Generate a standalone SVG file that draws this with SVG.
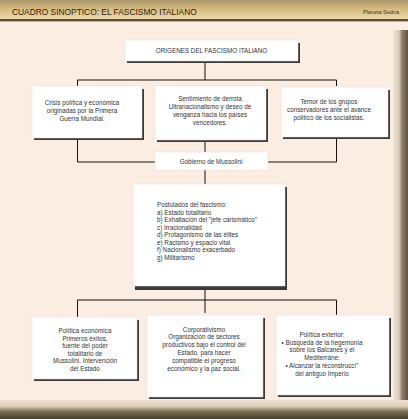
<svg xmlns="http://www.w3.org/2000/svg" width="408" height="419" viewBox="0 0 408 419">
<defs>
<linearGradient id="hdr" x1="0" y1="0" x2="0" y2="1">
<stop offset="0" stop-color="#a8956a"/>
<stop offset="0.45" stop-color="#d6bb7e"/>
<stop offset="1" stop-color="#ecdcae"/>
</linearGradient>
<linearGradient id="rb" x1="0" y1="0" x2="1" y2="0">
<stop offset="0" stop-color="#efe4d6"/>
<stop offset="0.4" stop-color="#d9ccbb"/>
<stop offset="0.6" stop-color="#8f806a"/>
<stop offset="1" stop-color="#5f523f"/>
</linearGradient>
<linearGradient id="bb" x1="0" y1="0" x2="0" y2="1">
<stop offset="0" stop-color="#efe3d4"/>
<stop offset="0.35" stop-color="#d8cab5"/>
<stop offset="0.6" stop-color="#7f7055"/>
<stop offset="1" stop-color="#463c2b"/>
</linearGradient>
<style>
.box{fill:#ffffff;stroke:#e6e0da;stroke-width:0.5}
.sh{fill:#3a3a3a}
.t{font-family:"Liberation Sans",Arial,sans-serif;font-size:6.3px;fill:#333333;text-anchor:middle}
.tl{font-family:"Liberation Sans",Arial,sans-serif;font-size:6.3px;fill:#333333}
.c{stroke:#111111;stroke-width:1;fill:none}
</style>
</defs>
<rect x="0" y="0" width="408" height="419" fill="#fcede2"/>
<rect x="0" y="0" width="408" height="20" fill="url(#hdr)"/>
<rect x="0" y="19" width="408" height="2" fill="#5e4d33"/>
<rect x="0" y="21" width="408" height="1" fill="#c9b48a"/>
<rect x="393" y="30" width="15" height="389" fill="url(#rb)"/>
<rect x="0" y="400" width="408" height="19" fill="url(#bb)"/>
<text x="12" y="15" font-family="Liberation Sans, Arial, sans-serif" font-size="8.4px" fill="#2e2614">CUADRO SINOPTICO: EL FASCISMO ITALIANO</text>
<text x="399" y="14" font-family="Liberation Sans, Arial, sans-serif" font-size="5.5px" fill="#3e3420" text-anchor="end">Planeta Sedna</text>

<g id="connectors">
<path class="c" d="M205 61V80M77.5 86V80H336.5V86"/>
<path class="c" d="M77.5 138V162H155M336.5 137V162H268M205 140V152M205 170V184"/>
<path class="c" d="M205 288V313M77.5 317V300H336.5V315"/>
</g>

<g id="n-origenes">
<rect class="sh" x="127" y="43" width="173" height="20"/>
<rect class="box" x="125" y="40" width="173" height="21"/>
<text class="t" x="211.5" y="53" font-size="5.6px">ORIGENES DEL FASCISMO ITALIANO</text>
</g>

<g id="n-crisis">
<rect class="sh" x="34" y="89" width="110" height="51"/>
<rect class="box" x="32" y="86" width="110" height="52"/>
<text class="t" x="82" y="105">Crisis política y económica</text>
<text class="t" x="82" y="113">originadas por la Primera</text>
<text class="t" x="82" y="121">Guerra Mundial.</text>
</g>

<g id="n-sentimiento">
<rect class="sh" x="157" y="89" width="111" height="53"/>
<rect class="box" x="155" y="86" width="111" height="54"/>
<text class="t" x="210" y="101">Sentimiento de derrota</text>
<text class="t" x="210" y="109">Ultranacionalismo y deseo de</text>
<text class="t" x="210" y="117">venganza hacia los países</text>
<text class="t" x="210" y="125">vencedores.</text>
</g>

<g id="n-temor">
<rect class="sh" x="283" y="90" width="107" height="49"/>
<rect class="box" x="281" y="87" width="107" height="50"/>
<text class="t" x="329" y="104">Temor de los grupos</text>
<text class="t" x="329" y="112">conservadores ante el avance</text>
<text class="t" x="329" y="120">político de los socialistas.</text>
</g>

<g id="n-gobierno">
<rect class="box" x="155" y="152" width="113" height="18"/>
<text class="t" x="211" y="164">Gobierno de Mussolini</text>
</g>

<g id="n-postulados">
<rect class="sh" x="135" y="187" width="152" height="103"/>
<rect class="box" x="133" y="184" width="152" height="102"/>
<text class="tl" x="157" y="207">Postulados del fascismo:</text>
<text class="tl" x="157" y="214.5">a) Estado totalitario</text>
<text class="tl" x="157" y="222">b) Exhaltación del "jefe carismático"</text>
<text class="tl" x="157" y="229.5">c) Irracionalidad</text>
<text class="tl" x="157" y="237">d) Protagonismo de las élites</text>
<text class="tl" x="157" y="244.5">e) Racismo y espacio vital</text>
<text class="tl" x="157" y="252">f) Nacionalismo exacerbado</text>
<text class="tl" x="157" y="259.5">g) Militarismo</text>
</g>

<g id="n-economica">
<rect class="sh" x="34" y="320" width="105" height="61"/>
<rect class="box" x="32" y="317" width="105" height="62"/>
<text class="t" x="85" y="333">Política económica</text>
<text class="t" x="85" y="340.6">Primeros éxitos,</text>
<text class="t" x="85" y="348.2">fuente del poder</text>
<text class="t" x="85" y="355.8">totalitario de</text>
<text class="t" x="85" y="363.4">Mussolini. Intervención</text>
<text class="t" x="85" y="371">del Estado</text>
</g>

<g id="n-corporativismo">
<rect class="sh" x="149" y="318" width="116" height="81"/>
<rect class="box" x="147" y="315" width="116" height="82"/>
<text class="t" x="204" y="331.5">Corporativismo</text>
<text class="t" x="204" y="339.3">Organización de sectores</text>
<text class="t" x="204" y="347.1">productivos bajo el control del</text>
<text class="t" x="204" y="354.9">Estado, para hacer</text>
<text class="t" x="204" y="362.7">compatible el progreso</text>
<text class="t" x="204" y="370.5">económico y la paz social.</text>
</g>

<g id="n-exterior">
<rect class="sh" x="278" y="318" width="113" height="79"/>
<rect class="box" x="276" y="315" width="113" height="80"/>
<text class="t" x="322" y="337">Política exterior:</text>
<text class="t" x="322" y="344.7">• Búsqueda de la hegemonía</text>
<text class="t" x="322" y="352.4">sobre los Balcanes y el</text>
<text class="t" x="322" y="360.1">Mediterráne:</text>
<text class="t" x="322" y="367.8">• Alcanzar la reconstruccí"</text>
<text class="t" x="322" y="375.5">del antiguo Imperio</text>
</g>
</svg>
